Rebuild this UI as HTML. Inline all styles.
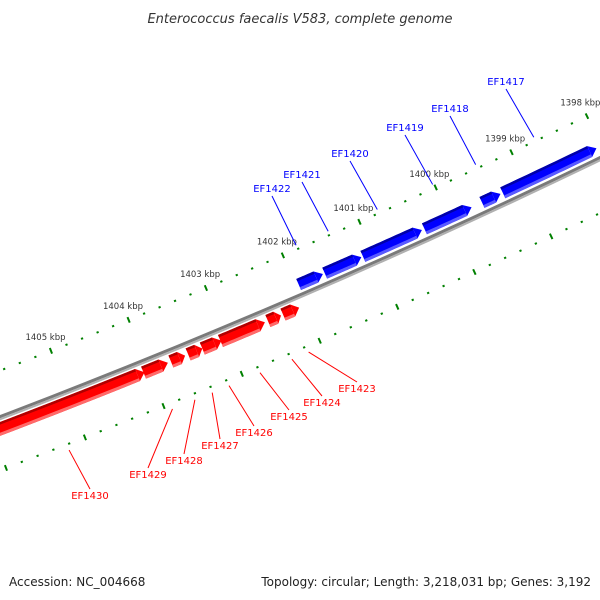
<!DOCTYPE html>
<html><head><meta charset="utf-8"><style>
html,body{margin:0;padding:0;background:#fff;}
svg{display:block;}
</style></head><body>
<svg id="map" width="600" height="600" viewBox="0 0 600 600" xmlns="http://www.w3.org/2000/svg">
<text x="300" y="23" text-anchor="middle" font-family="DejaVu Sans, Liberation Sans, sans-serif" font-style="italic" font-size="13" fill="#333">Enterococcus faecalis V583, complete genome</text>
<g id="ticks"></g>
<g id="backbone"></g>
<g id="genes"></g>
<g id="labels"></g>
<text x="9" y="586" font-family="DejaVu Sans, Liberation Sans, sans-serif" font-size="12" fill="#222">Accession: NC_004668</text>
<text x="591" y="586" text-anchor="end" font-family="DejaVu Sans, Liberation Sans, sans-serif" font-size="12" fill="#222">Topology: circular; Length: 3,218,031 bp; Genes: 3,192</text>
</svg>
<script>
// data
const geneNames = ["EF1417","EF1418","EF1419","EF1420","EF1421","EF1422","EF1423","EF1424","EF1425","EF1426","EF1427","EF1428","EF1429","EF1430"];
const geneStarts = [1398065,1399330,1399710,1400360,1401150,1401650,1402069,1402303,1402511,1403070,1403317,1403538,1403759,1404058];
const geneEnds   = [1399300,1399573,1400327,1401130,1401627,1401965,1402277,1402472,1403083,1403317,1403499,1403720,1404071,1408500];
const geneStrands = [1,1,1,1,1,1,-1,-1,-1,-1,-1,-1,-1,-1];
const labelAnchors = [[506,85],[450,112],[405,131],[350,157],[302,178],[272,192],[357,392],[322,406],[289,420],[254,436],[220,449],[184,464],[148,478],[90,499]];
const rulerStart = 1396000, rulerEnd = 1409000, majorStep = 1000, minorStep = 200;
const visibleEnd = 1406400;

// axis functions
const CX=-2714, CY=-6694, R=7612;
const A0=64.14, DEG_PER_KBP=0.633, BP0=1398000;
function ang(bp){return (A0+(bp-BP0)/1000*DEG_PER_KBP)*Math.PI/180;}
function pt(bp,r){const a=ang(bp);return [CX+r*Math.cos(a), CY+r*Math.sin(a)];}
const NS="http://www.w3.org/2000/svg";
function mk(tag,attrs,parent){const e=document.createElementNS(NS,tag);for(const k in attrs)e.setAttribute(k,attrs[k]);parent.appendChild(e);return e;}
function arcPath(b1,b2,r){let s="";const n=24;for(let i=0;i<=n;i++){const p=pt(b1+(b2-b1)*i/n,r);s+=(i?"L":"M")+p[0].toFixed(2)+","+p[1].toFixed(2);}return s;}
function band(b1,b2,r1,r2){let s="";const n=16;for(let i=0;i<=n;i++){const p=pt(b1+(b2-b1)*i/n,r1);s+=(i?"L":"M")+p[0].toFixed(2)+","+p[1].toFixed(2);}for(let i=n;i>=0;i--){const p=pt(b1+(b2-b1)*i/n,r2);s+="L"+p[0].toFixed(2)+","+p[1].toFixed(2);}return s+"Z";}

// backbone
const bbg=document.getElementById("backbone");
const bb1=mk("path",{d:arcPath(rulerStart,rulerEnd,R-1),stroke:"#7a7a7a","stroke-width":3,fill:"none"},bbg);


const bb2=mk("path",{d:arcPath(rulerStart,rulerEnd,R+1.5),stroke:"#b0b0b0","stroke-width":2,fill:"none"},bbg);



// ruler ticks
const tg=document.getElementById("ticks");
[[R-44,-1],[R+49,1]].forEach(([rr,side])=>{
  for(let bp=rulerStart;bp<=rulerEnd;bp+=minorStep){
    const major=bp%majorStep===0;
    const len=major?6:2;
    const p1=pt(bp,rr-len/2),p2=pt(bp,rr+len/2);
    const t=mk("line",{x1:p1[0],y1:p1[1],x2:p2[0],y2:p2[1],stroke:"#008000","stroke-width":major?2:2.2},tg);
    
    
    if(major&&side<0){
      const lp=pt(bp,rr-15);
      const tx=mk("text",{x:lp[0].toFixed(1),y:(lp[1]+3).toFixed(1),"text-anchor":"middle","font-family":"DejaVu Sans, Liberation Sans, sans-serif","font-size":"8.5",fill:"#333"},tg);
      tx.textContent=(bp/1000)+" kbp";
      
      
    }
  }
});

// genes
const gg=document.getElementById("genes"), lg=document.getElementById("labels");
for(let i=0;i<geneNames.length;i++){
  const s=geneStarts[i], e=geneEnds[i], f=geneStrands[i]>0;
  const rIn=f?R-17:R+4, rOut=f?R-5:R+17;
  const arrowLen=Math.min(90,(e-s)*0.4);
  const main=f?"#0000ff":"#ff0000", dark=f?"#0000a8":"#b00000", light=f?"#5a5aff":"#ff6a6a";
  const g=mk("g",{},gg);
  
  
  const rm=(rIn+rOut)/2;
  mk("path",{d:band(s+arrowLen,e,rIn,rOut),fill:main},g);
  const a1=pt(s+arrowLen,rIn),a2=pt(s,rm),a3=pt(s+arrowLen,rOut);
  mk("path",{d:"M"+a1+"L"+a2+"L"+a3+"Z",fill:main},g);
  mk("path",{d:band(s+arrowLen,e,rIn,rIn+2.5),fill:dark},g);
  mk("path",{d:band(s+arrowLen,e,rOut-3,rOut),fill:light},g);
  // label
  const midBp=(s+Math.min(e,visibleEnd))/2;
  const lp=pt(midBp, f?R-48:R+55);
  const an=labelAnchors[i];
  const col=f?"#0000ff":"#ff0000";
  const ly=f?an[1]+4:an[1]-10;
  const ln=mk("line",{x1:lp[0],y1:lp[1],x2:an[0],y2:ly,stroke:col,"stroke-width":1},lg);
  
  
  const tx=mk("text",{x:an[0],y:an[1],"text-anchor":"middle","font-family":"DejaVu Sans, Liberation Sans, sans-serif","font-size":"10",fill:col},lg);
  tx.textContent=geneNames[i];
  
  
}
</script>
</body></html>
